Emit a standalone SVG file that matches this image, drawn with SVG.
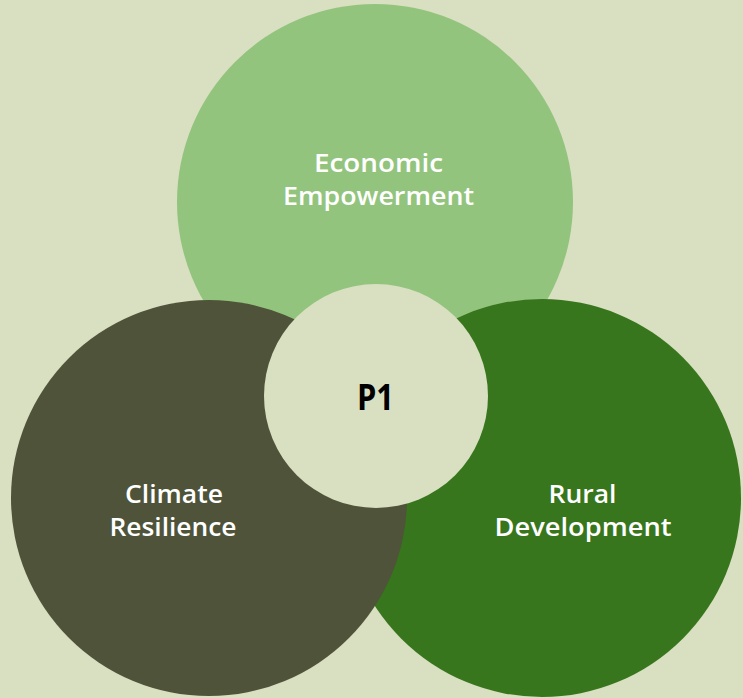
<svg xmlns="http://www.w3.org/2000/svg" width="743" height="698" viewBox="0 0 743 698">
<style>
.lbl{font-family:"Open Sans","Noto Sans","Liberation Sans",sans-serif;font-weight:600;font-size:26px;fill:#ffffff;text-anchor:middle}
.ctr{font-family:"Open Sans","Noto Sans","Liberation Sans",sans-serif;font-weight:700;font-size:36px;fill:#000000;text-anchor:middle}
</style>
<rect width="743" height="698" fill="#d9dfc1"/>
<g id="economic">
<circle cx="375" cy="202" r="198" fill="#93c47d"/>
<text class="lbl" x="378.5" y="172" textLength="129" lengthAdjust="spacingAndGlyphs">Economic</text>
<text class="lbl" x="378.5" y="205" textLength="191" lengthAdjust="spacingAndGlyphs">Empowerment</text>
</g>
<g id="rural">
<circle cx="542" cy="498" r="199" fill="#38761d"/>
<text class="lbl" x="582.5" y="503" textLength="68" lengthAdjust="spacingAndGlyphs">Rural</text>
<text class="lbl" x="583" y="536" textLength="177" lengthAdjust="spacingAndGlyphs">Development</text>
</g>
<g id="climate">
<circle cx="209" cy="498" r="198" fill="#4e5339"/>
<text class="lbl" x="174" y="503" textLength="98" lengthAdjust="spacingAndGlyphs">Climate</text>
<text class="lbl" x="173" y="536" textLength="127" lengthAdjust="spacingAndGlyphs">Resilience</text>
</g>
<g id="connectors"></g>
<g id="p1">
<circle cx="376" cy="396" r="112" fill="#d9dfc1"/>
<text class="ctr" x="375.5" y="410" textLength="37" lengthAdjust="spacingAndGlyphs">P1</text>
</g>
</svg>
